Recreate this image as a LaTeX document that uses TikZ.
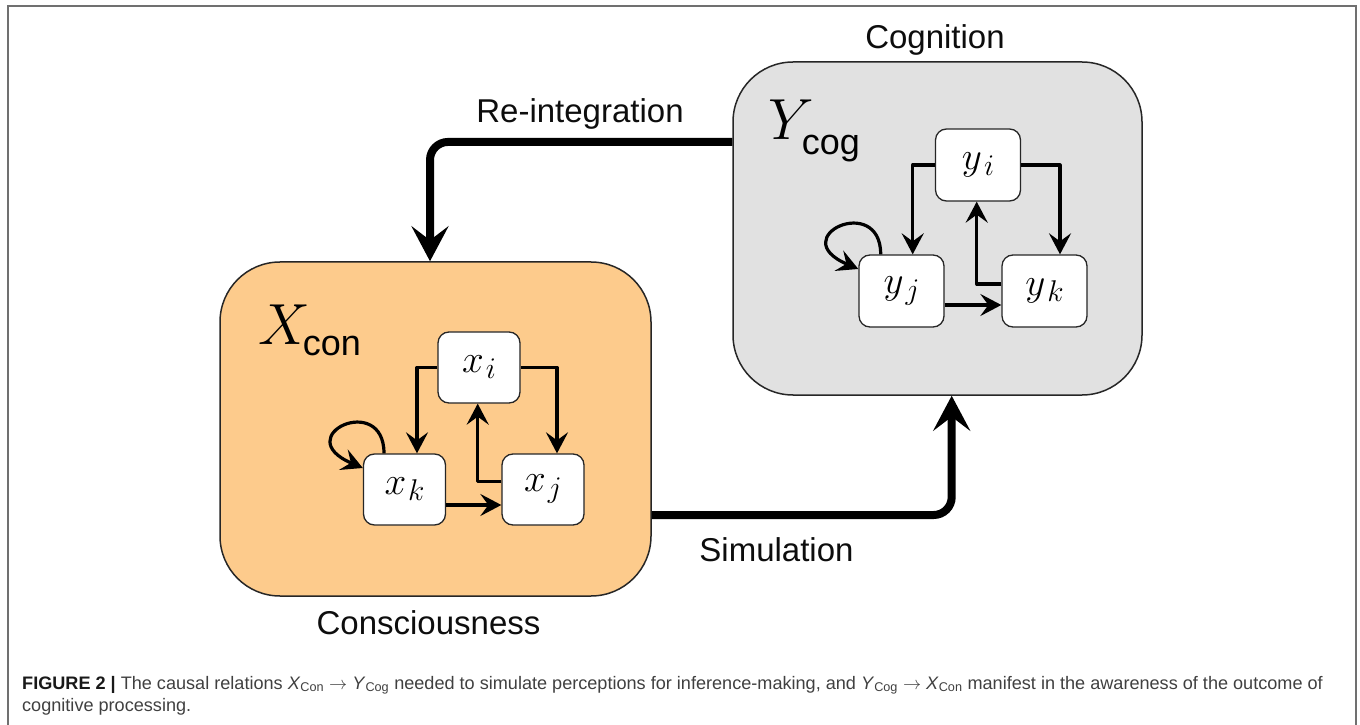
\RequirePackage{fix-cm}
\documentclass[tikz,border=0pt]{standalone}
\usepackage{fontspec}
\setmainfont{Liberation Sans}
\usetikzlibrary{arrows.meta}
\definecolor{conorange}{HTML}{FDCB8C}
\definecolor{coggray}{HTML}{E1E1E1}
\definecolor{framegray}{HTML}{707070}
\definecolor{captext}{HTML}{404040}
\begin{document}
\begin{tikzpicture}[x=1pt,y=1pt,
  bigbox/.style={draw=black!85, line width=1.5pt, rounded corners=60pt, inner sep=0pt},
  var/.style={draw=black!85, fill=white, line width=1.3pt, rounded corners=11pt, inner sep=0pt, font=\fontsize{39}{39}\selectfont},
  link/.style={line width=3.2pt, line join=round, -{Stealth[length=21pt,width=22pt,inset=8pt]}},
  flow/.style={line width=8pt, rounded corners=18pt, -{Stealth[length=35pt,width=37pt,inset=14pt]}},
  lbl/.style={font=\fontsize{33}{33}\selectfont, inner sep=0pt, anchor=base, text=black!95},
  caption/.style={anchor=base west, inner sep=0pt, font=\fontsize{18.1}{22}\selectfont, text=captext}
]
\useasboundingbox (0,0) rectangle (1360,724);
% outer frame
\draw[framegray, line width=2pt] (7.8,-2) -- (7.8,717.5) -- (1355.5,717.5) -- (1355.5,-2);

% big boxes
\node[bigbox, fill=conorange, minimum width=431pt, minimum height=334pt] (Xbox) at (435.5,295) {};
\node[bigbox, fill=coggray, minimum width=409pt, minimum height=333pt] (Ybox) at (937.5,495.5) {};

% box labels
\node[anchor=base west, inner sep=0pt] (Xlab) at (258,379)
  {\fontsize{58}{58}\selectfont$X$\kern-7pt\raisebox{-10pt}{\fontsize{36}{36}\selectfont con}};
\node[anchor=base west, inner sep=0pt] (Ylab) at (768,584)
  {\fontsize{58}{58}\selectfont$Y$\kern-12pt\raisebox{-15pt}{\fontsize{36}{36}\selectfont cog}};

% inner nodes X
\node[var, minimum width=82pt, minimum height=71pt] (xi) at (479,356.5) {$x$\kern2pt\raisebox{-6pt}{\fontsize{30}{30}\selectfont$i$}};
\node[var, minimum width=82pt, minimum height=71pt] (xk) at (404.5,234.5) {$x$\kern2pt\raisebox{-6pt}{\fontsize{30}{30}\selectfont$k$}};
\node[var, minimum width=82pt, minimum height=71pt] (xj) at (543,234.5) {$x$\kern2pt\raisebox{-6pt}{\fontsize{30}{30}\selectfont$j$}};

% inner nodes Y
\node[var, minimum width=85pt, minimum height=72pt] (yi) at (978,559) {$y$\kern2pt\raisebox{-6pt}{\fontsize{30}{30}\selectfont$i$}};
\node[var, minimum width=85pt, minimum height=72pt] (yj) at (901.5,433) {$y$\kern2pt\raisebox{-6pt}{\fontsize{30}{30}\selectfont$j$}};
\node[var, minimum width=85pt, minimum height=72pt] (yk) at (1044.5,433) {$y$\kern2pt\raisebox{-6pt}{\fontsize{30}{30}\selectfont$k$}};

% links X
\draw[link] (xi.west) -| ([xshift=12.5pt]xk.north);
\draw[link] (xi.east) -| ([xshift=14pt]xj.north);
\draw[link] ([yshift=-15.5pt]xk.east) -- ([yshift=-15.5pt]xj.west);
\draw[link] ([yshift=7.8pt]xj.west) -| ([xshift=-1.3pt]xi.south);
\draw[link] ([xshift=-20.5pt]xk.north) .. controls +(0pt,62pt) and +(-75pt,32pt) .. ([yshift=21.5pt]xk.west);

% links Y
\draw[link] (yi.west) -| ([xshift=11.2pt]yj.north);
\draw[link] (yi.east) -| ([xshift=15.5pt]yk.north);
\draw[link] ([yshift=-14pt]yj.east) -- ([yshift=-14pt]yk.west);
\draw[link] ([yshift=7pt]yk.west) -| ([xshift=-1.3pt]yi.south);
\draw[link] ([xshift=-20.8pt]yj.north) .. controls +(0pt,62pt) and +(-75pt,32pt) .. ([yshift=22pt]yj.west);

% big flows
\draw[flow] ([yshift=-80.7pt]Ybox.north west) -| ([xshift=-5.5pt]Xbox.north);
\draw[flow] ([yshift=-86pt]Xbox.east) -| ([xshift=14.2pt]Ybox.south);

% labels
\node[lbl] (cog) at (935,675.5) {Cognition};
\node[lbl] (reint) at (580,601) {Re-integration};
\node[lbl] (sim) at (776.5,162.3) {Simulation};
\node[lbl] (cons) at (428.5,89.5) {Consciousness};

% caption
\node[caption] (cap1) at (22,35) {\textbf{\color{black!90}FIGURE 2 |} The causal relations \textit{X}\textsubscript{Con} $\rightarrow$ \textit{Y}\textsubscript{Cog} needed to simulate perceptions for inference-making, and \textit{Y}\textsubscript{Cog} $\rightarrow$ \textit{X}\textsubscript{Con} manifest in the awareness of the outcome of};
\node[caption] (cap2) at (22,13) {cognitive processing.};
\end{tikzpicture}
\end{document}
